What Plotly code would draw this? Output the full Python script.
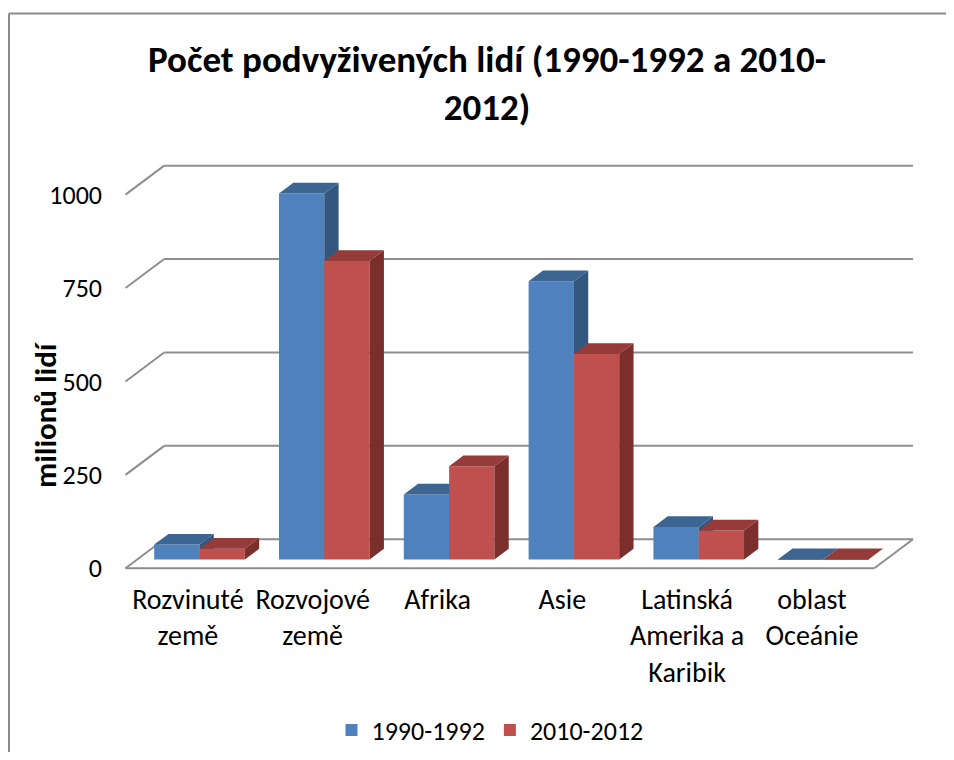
import plotly.graph_objects as go

# ---- data ----
categories = ["Rozvinuté<br>země", "Rozvojové<br>země", "Afrika", "Asie",
              "Latinská<br>Amerika a<br>Karibik", "oblast<br>Oceánie"]
series_names = ["1990-1992", "2010-2012"]
values_1990 = [40, 980, 174, 745, 87, 1]
values_2010 = [29, 799, 250, 550, 78, 1]
y_ticks = [0, 250, 500, 750, 1000]

# ---- pseudo-3D geometry (oblique projection) ----
DX = 0.31      # x shift (category units) for full depth
DY = 77.6      # y shift (value units) for full depth
DF, DB = 0.30, 0.67   # bar front / back depth
BW = 0.363            # bar width (category units)
front_cols = ["#4F81BD", "#C0504D"]
top_cols = ["#3C6592", "#953B39"]
side_cols = ["#34577F", "#7A2F2D"]
FONT = "Carlito, Lato, sans-serif"

W, H = 938, 744   # page body adds an 8px margin on every side
ML, MR, MT, MB = 115, 28, 153, 180
PW, PH = W - ML - MR, H - MT - MB

fig = go.Figure()

n = len(categories)
for s, vals in enumerate([values_1990, values_2010]):
    base = DF * DY
    centers = [i + 0.5 + (s - 0.5) * BW + DF * DX for i in range(n)]
    fig.add_trace(go.Bar(
        x=centers, y=vals, base=[base] * n, width=BW, name=series_names[s],
        marker=dict(color=front_cols[s], line=dict(width=0)),
        zorder=2 * s, hoverinfo="skip"))
    ddx = (DB - DF) * DX
    ddy = (DB - DF) * DY
    tx, ty, sx, sy = [], [], [], []
    for c, v in zip(centers, vals):
        x0, x1 = c - BW / 2, c + BW / 2
        top = base + v
        tx += [x0, x1, x1 + ddx, x0 + ddx, x0, None]
        ty += [top, top, top + ddy, top + ddy, top, None]
        sx += [x1, x1 + ddx, x1 + ddx, x1, x1, None]
        sy += [base, base + ddy, top + ddy, top, base, None]
    fig.add_trace(go.Scatter(x=sx, y=sy, mode="lines", fill="toself",
                             fillcolor=side_cols[s], line=dict(width=0),
                             showlegend=False, hoverinfo="skip", zorder=2 * s + 1))
    fig.add_trace(go.Scatter(x=tx, y=ty, mode="lines", fill="toself",
                             fillcolor=top_cols[s], line=dict(width=0),
                             showlegend=False, hoverinfo="skip", zorder=2 * s + 1))

# walls / gridlines
grid = dict(color="#8E8E8E", width=2)
xr = n + DX
for t in y_ticks:
    fig.add_shape(type="line", x0=0, y0=t, x1=DX, y1=t + DY, line=grid, layer="below")
    fig.add_shape(type="line", x0=DX, y0=t + DY, x1=xr, y1=t + DY, line=grid, layer="below")
# floor outline
fig.add_shape(type="line", x0=0, y0=0, x1=n, y1=0, line=grid, layer="below")
fig.add_shape(type="line", x0=n, y0=0, x1=xr, y1=DY, line=grid, layer="below")

# chart border: top and left edges, ending exactly at the figure edges
border = dict(color="#8A8A8A", width=2)
bx0 = (1 - ML) / PW
by1 = 1 + (MT - 5.5) / PH
fig.add_shape(type="line", xref="paper", yref="paper", x0=bx0, y0=by1,
              x1=(W - ML) / PW, y1=by1, line=border, layer="below")
fig.add_shape(type="line", xref="paper", yref="paper", x0=bx0, y0=by1,
              x1=bx0, y1=-MB / PH, line=border, layer="below")

# y-axis title as rotated text
fig.add_annotation(text="<b>milionů lidí</b>", textangle=-90, xref="paper", yref="paper",
                   x=(37 - ML) / PW, y=1 - (407 - MT) / PH, xanchor="center",
                   yanchor="middle", showarrow=False, font=dict(size=31, family=FONT))

fig.update_layout(
    width=W, height=H,
    margin=dict(l=ML, r=MR, t=MT, b=MB),
    paper_bgcolor="white", plot_bgcolor="white",
    font=dict(family=FONT, color="#000000", size=26),
    title=dict(text="<b>Počet podvyživených lidí (1990-1992 a 2010-<br>2012)</b>",
               x=479 / W, xanchor="center", y=1 - 64 / H, yanchor="middle",
               yref="container", font=dict(size=37, family=FONT)),
    showlegend=True,
    legend=dict(orientation="h", x=482 / W, xanchor="center", y=1 - 722 / H,
                yanchor="middle", xref="container", yref="container",
                font=dict(size=26, family=FONT), traceorder="normal"),
    xaxis=dict(range=[-0.02, 6.35], tickvals=[i + 0.5 for i in range(n)],
               ticktext=categories, showgrid=False, zeroline=False,
               showline=False, ticks="", ticklabelstandoff=8,
               tickfont=dict(size=28), fixedrange=True),
    yaxis=dict(range=[-10, 1090], tickvals=y_ticks,
               ticktext=[str(t) for t in y_ticks], showgrid=False,
               zeroline=False, showline=False, ticks="", ticklabelstandoff=20,
               tickfont=dict(size=26), fixedrange=True),
)

fig.write_html("out.html")
